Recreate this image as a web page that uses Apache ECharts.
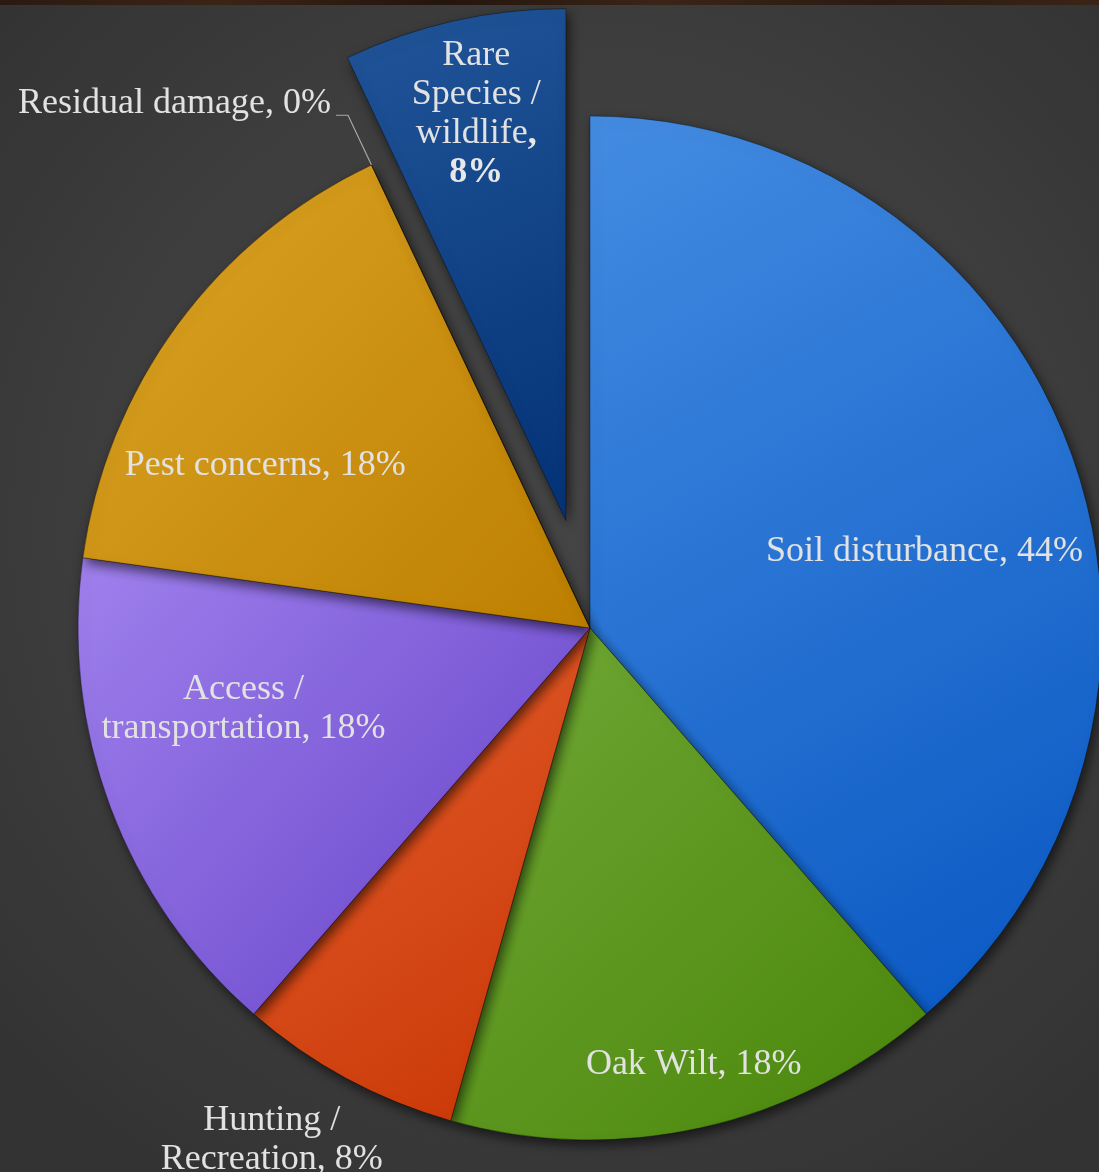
<!DOCTYPE html>
<html>
<head>
<meta charset="utf-8">
<title>Concerns</title>
<script src="https://cdn.jsdelivr.net/npm/echarts@6/dist/echarts.min.js"></script>
<style>
  html, body { margin: 0; padding: 0; width: 1099px; height: 1172px; overflow: hidden; }
  body { background: radial-gradient(ellipse 70% 65% at 52% 45%, #454545 0%, #3e3e3e 60%, #333333 100%); }
  #strip { position: absolute; left: 0; top: 0; width: 1099px; height: 5px;
           background: linear-gradient(90deg, #2b1a11, #3b2416, #24150d, #3a2517, #2b1b12, #3a2416); }
  #chart { position: absolute; left: 0; top: 0; width: 1099px; height: 1172px; }
</style>
</head>
<body>
<div id="chart"></div>
<div id="strip"></div>
<script>
// Share of responses per concern (percent), clockwise from 12 o'clock
const categories = [
  'Soil disturbance',
  'Oak Wilt',
  'Hunting /\nRecreation',
  'Access /\ntransportation',
  'Pest concerns',
  'Residual damage',
  'Rare\nSpecies /\nwildlife'
];
const values = [44, 18, 8, 18, 18, 0, 8];
const pulledOut = 'Rare\nSpecies /\nwildlife';

// Slice fills: light corner -> dark corner
const sliceColors = [
  ['#448ce2', '#0857c2'],
  ['#70a836', '#4a860a'],
  ['#e45e2e', '#c83604'],
  ['#9f80ec', '#6441c8'],
  ['#dba426', '#bd7f00'],
  ['#999999', '#777777'],
  ['#215599', '#043276']
];

// Label nudges from the default inside anchor (px)
const labelNudge = [
  [92, 14], [47, 184], [-195, 284], [-104, -10], [-116, -9], [0, 0], [-33, -154]
];

const chart = echarts.init(document.getElementById('chart'), null, { renderer: 'canvas' });

const fontFamily = '"Liberation Serif", "DejaVu Serif", serif';

const data = categories.map((name, i) => {
  const grad = new echarts.graphic.LinearGradient(0, 0, 1, 1, [
    { offset: 0, color: sliceColors[i][0] },
    { offset: 1, color: sliceColors[i][1] }
  ]);
  const item = {
    name: name,
    value: values[i],
    itemStyle: { color: grad },
    select: { itemStyle: { color: grad } }
  };
  if (name === pulledOut) item.selected = true;
  if (values[i] === 0) {
    item.label = { position: 'outside', padding: [0, 0, 24, 0], distanceToLabelLine: 5 };
    item.labelLine = {
      show: true, length: 55, length2: 12, smooth: false,
      lineStyle: { color: '#a8a8a8', width: 1.2 }
    };
  }
  return item;
});

chart.setOption({
  backgroundColor: 'transparent',
  animation: false,
  series: [{
    type: 'pie',
    center: [590, 628],
    radius: 512,
    startAngle: 90,
    clockwise: true,
    avoidLabelOverlap: false,
    selectedMode: 'single',
    selectedOffset: 110,
    emphasis: { disabled: true },
    itemStyle: {
      borderColor: 'rgba(0,0,0,0.35)',
      borderWidth: 1,
      shadowBlur: 12,
      shadowOffsetX: 3,
      shadowOffsetY: 5,
      shadowColor: 'rgba(0,0,0,0.6)'
    },
    label: {
      show: true,
      position: 'inside',
      color: '#e2e2e2',
      fontFamily: fontFamily,
      fontSize: 36,
      lineHeight: 39,
      align: 'center',
      formatter: p => p.name === pulledOut
        ? p.name + '{b|,}\n{b|' + p.value + '%}'
        : p.name + ', ' + p.value + '%',
      rich: {
        b: { fontWeight: 'bold', fontFamily: fontFamily, fontSize: 36, lineHeight: 39, color: '#e8e8e8' }
      }
    },
    labelLine: { show: false },
    labelLayout: p => {
      const n = labelNudge[p.dataIndex];
      if (!n || (n[0] === 0 && n[1] === 0)) return {};
      return { dx: n[0], dy: n[1] };
    },
    data: data
  }]
});
</script>
</body>
</html>
